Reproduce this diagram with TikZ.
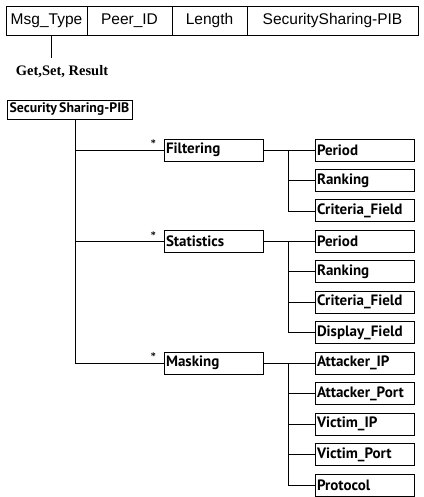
\documentclass[tikz,border=0pt]{standalone}
\usepackage{fontspec}
\setmainfont{Liberation Sans}
\newfontfamily\treefont{PT Sans}
\newfontfamily\notefont{Liberation Serif}
\usetikzlibrary{positioning}

\tikzset{
  hdrbox/.style={draw, line width=0.9pt, minimum height=29pt, inner sep=0pt, outer sep=0pt, font=\fontsize{15.5}{17}\selectfont},
  treebox/.style={draw, line width=0.9pt, minimum height=22pt, inner xsep=2pt, inner ysep=0pt, outer sep=0pt, text width=95pt, align=left, font=\treefont\bfseries\fontsize{15}{16}\selectfont},
  rootbox/.style={draw, line width=0.9pt, minimum height=19pt, minimum width=125pt, inner sep=0pt, outer sep=0pt, font=\treefont\bfseries\fontsize{13.8}{15}\selectfont},
  starmark/.style={inner sep=0pt, font=\notefont\bfseries\fontsize{10}{10}\selectfont},
  wire/.style={line width=0.8pt}
}

\begin{document}
\begin{tikzpicture}[x=1pt,y=1pt,yscale=-1,xscale=1]
  \useasboundingbox (0,0) rectangle (423,497);

  % Header fields
  \node[hdrbox, minimum width=81pt, anchor=north west] (mt) at (6,6) {Msg\_Type};
  \node[hdrbox, minimum width=85pt, right=0pt of mt] (pid) {Peer\_ID};
  \node[hdrbox, minimum width=75pt, right=0pt of pid] (len) {Length};
  \node[hdrbox, minimum width=171pt, right=0pt of len] (ssp) {SecuritySharing-PIB};

  % Text Node
  \node[inner sep=0pt, font=\notefont\bfseries\fontsize{14.5}{16}\selectfont] (gsr) at (62,72) {Get,Set, Result};
  \coordinate (mtend) at (51,58);
  \draw[wire] (mtend |- mt.south) -- (mtend);

  % Root of the tree
  \node[rootbox] (root) at (69.5,109.5) {Security\,Sharing-PIB};

  % Filtering group
  \node[treebox] (fper) at (364.5,150) {Period};
  \node[treebox, below=8.45pt of fper] (frank) {Ranking};
  \node[treebox, below=8.45pt of frank] (fcri) {Criteria\_Field};
  \node[treebox, left=52pt of fper] (filt) {Filtering};

  % Statistics group
  \node[treebox, below=8.45pt of fcri] (sper) {Period};
  \node[treebox, below=8.45pt of sper] (srank) {Ranking};
  \node[treebox, below=8.45pt of srank] (scri) {Criteria\_Field};
  \node[treebox, below=8.45pt of scri] (sdisp) {Display\_Field};
  \node[treebox, left=52pt of sper] (stat) {Statistics};

  % Masking group
  \node[treebox, below=8.45pt of sdisp] (aip) {Attacker\_IP};
  \node[treebox, below=8.45pt of aip] (aport) {Attacker\_Port};
  \node[treebox, below=8.45pt of aport] (vip) {Victim\_IP};
  \node[treebox, below=8.45pt of vip] (vport) {Victim\_Port};
  \node[treebox, below=8.45pt of vport] (proto) {Protocol};
  \node[treebox, left=52pt of aip] (mask) {Masking};

  % Multiplicity marks
  \node[starmark, above left=3pt and 8pt of filt.west] (sfilt) {*};
  \node[starmark, above left=3pt and 8pt of stat.west] (sstat) {*};
  \node[starmark, above left=3pt and 8pt of mask.west] (smask) {*};

  % Trunk
  \coordinate (trunk) at (75,0);
  \draw[wire] (trunk |- root.south) -- (trunk |- mask.west) -- (mask.west);
  \draw[wire] (trunk |- filt.west) -- (filt.west);
  \draw[wire] (trunk |- stat.west) -- (stat.west);

  % Buses
  \coordinate (bus) at (288,0);
  \draw[wire] (filt.east) -- (fper.west);
  \draw[wire] (bus |- fper.west) -- (bus |- fcri.west) -- (fcri.west);
  \draw[wire] (bus |- frank.west) -- (frank.west);

  \draw[wire] (stat.east) -- (sper.west);
  \draw[wire] (bus |- sper.west) -- (bus |- sdisp.west) -- (sdisp.west);
  \draw[wire] (bus |- srank.west) -- (srank.west);
  \draw[wire] (bus |- scri.west) -- (scri.west);

  \draw[wire] (mask.east) -- (aip.west);
  \draw[wire] (bus |- aip.west) -- (bus |- proto.west) -- (proto.west);
  \draw[wire] (bus |- aport.west) -- (aport.west);
  \draw[wire] (bus |- vip.west) -- (vip.west);
  \draw[wire] (bus |- vport.west) -- (vport.west);
\end{tikzpicture}
\end{document}
